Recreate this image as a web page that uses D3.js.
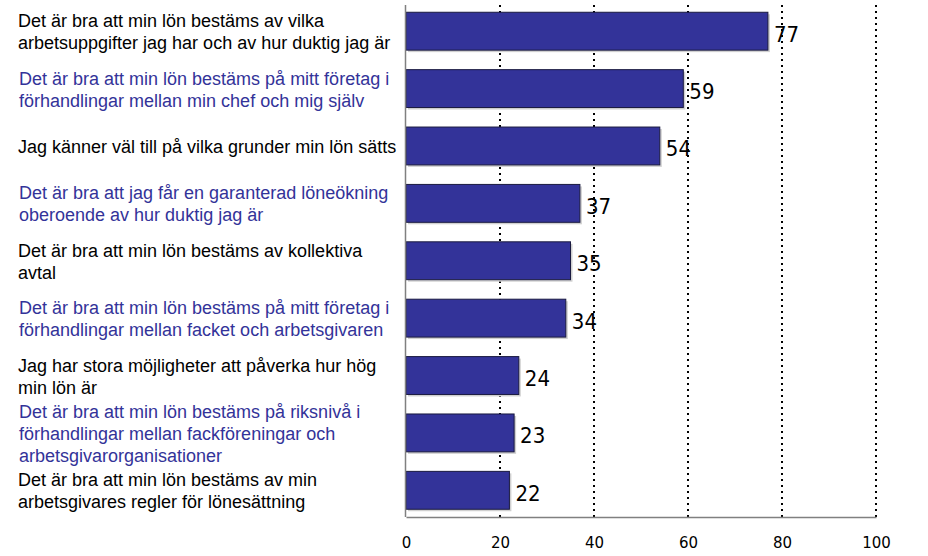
<!DOCTYPE html>
<html><head><meta charset="utf-8">
<script src="https://cdn.jsdelivr.net/npm/d3@7"></script>
<style>body{margin:0;background:#fff}svg{display:block}</style>
</head><body>
<svg id="c" width="928" height="556"></svg>
<script>
const categories = [
  ["Det är bra att min lön bestäms av vilka","arbetsuppgifter jag har och av hur duktig jag är"],
  ["Det är bra att min lön bestäms på mitt företag i","förhandlingar mellan min chef och mig själv"],
  ["Jag känner väl till på vilka grunder min lön sätts"],
  ["Det är bra att jag får en garanterad löneökning","oberoende av hur duktig jag är"],
  ["Det är bra att min lön bestäms av kollektiva","avtal"],
  ["Det är bra att min lön bestäms på mitt företag i","förhandlingar mellan facket och arbetsgivaren"],
  ["Jag har stora möjligheter att påverka hur hög","min lön är"],
  ["Det är bra att min lön bestäms på riksnivå i","förhandlingar mellan fackföreningar och","arbetsgivarorganisationer"],
  ["Det är bra att min lön bestäms av min","arbetsgivares regler för lönesättning"]
];
const values = [77, 59, 54, 37, 35, 34, 24, 23, 22];
const xTicks = [0, 20, 40, 60, 80, 100];

const svg = d3.select("#c");
const x = d3.scaleLinear().domain([0, 100]).range([406, 876]);
const y = d3.scaleBand().domain(d3.range(values.length)).range([2.5, 519]).paddingInner(0.34).paddingOuter(0.17);

// gridlines
svg.append("g").selectAll("line").data(xTicks.slice(1)).join("line")
  .attr("x1", d => x(d)).attr("x2", d => x(d))
  .attr("y1", 5).attr("y2", 517)
  .attr("stroke", "#000").attr("stroke-width", 2).attr("stroke-dasharray", "2,4");

// bars shadow
svg.append("g").selectAll("rect").data(values).join("rect")
  .attr("x", x(0) + 2).attr("y", (d, i) => y(i) + 2)
  .attr("width", d => x(d) - x(0)).attr("height", y.bandwidth())
  .attr("fill", "#d0d0d0");
// bars
svg.append("g").selectAll("rect").data(values).join("rect")
  .attr("x", x(0)).attr("y", (d, i) => y(i))
  .attr("width", d => x(d) - x(0)).attr("height", y.bandwidth())
  .attr("fill", "#333399").attr("stroke", "#1a1a40").attr("stroke-width", 1);

// value labels
svg.append("g").selectAll("text").data(values).join("text")
  .attr("x", d => x(d) + 6).attr("y", (d, i) => y(i) + y.bandwidth() / 2 + 3)
  .attr("dominant-baseline", "central")
  .attr("font-family", "DejaVu Sans Condensed, DejaVu Sans, sans-serif")
  .attr("font-stretch", "condensed").attr("font-size", 22)
  .attr("fill", "#000").text(d => d);

// axes lines
svg.append("line").attr("x1", 405.5).attr("x2", 405.5).attr("y1", 5).attr("y2", 517)
  .attr("stroke", "#808080").attr("stroke-width", 1.5);
const xAxis = d3.axisBottom(x).tickValues(xTicks).tickSize(0).tickPadding(20);
const ga = svg.append("g").attr("transform", "translate(0,517)").call(xAxis);
ga.select(".domain").attr("stroke", "#808080").attr("stroke-width", 1.5);
ga.selectAll("text").attr("font-family", "DejaVu Sans, sans-serif").attr("font-size", 15).attr("fill", "#000");

// category labels
const lh = 22;
const cg = svg.append("g");
categories.forEach((lines, i) => {
  const cy = y(i) + y.bandwidth() / 2 + 1;
  const t = cg.append("text")
    .attr("font-family", "Liberation Sans, Arial, sans-serif").attr("font-size", 18)
    .attr("fill", i % 2 === 0 ? "#000" : "#333399");
  lines.forEach((ln, j) => {
    t.append("tspan").attr("x", i % 2 === 0 ? 18 : 19)
      .attr("y", cy + (j - (lines.length - 1) / 2) * lh)
      .attr("dominant-baseline", "central").text(ln);
  });
});
</script>
</body></html>
